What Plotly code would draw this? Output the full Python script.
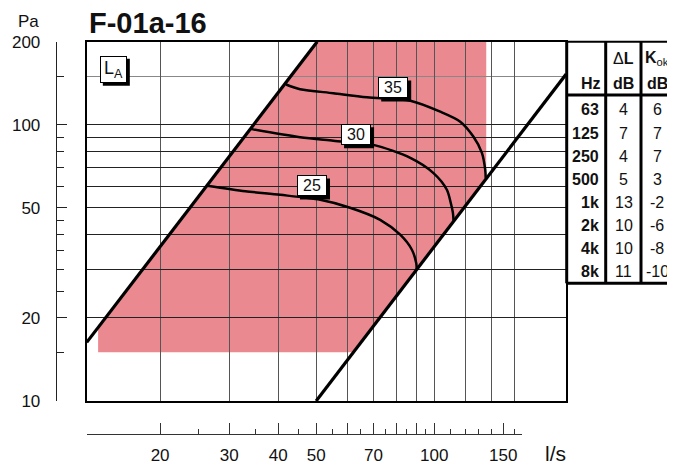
import math
import plotly.graph_objects as go

# the page puts the figure 8 px in from the top-left corner
OFF = 8
W, H = 675 - OFF, 466 - OFF

# limit lines of the unit (flow l/s, pressure Pa)
left_limit_q = [13.0, 50.3]
left_limit_p = [16.3, 200]
right_limit_q = [50.0, 217]
right_limit_p = [10.0, 152.7]

# shaded working area
area_q = [13.9, 13.9, 50.3, 135.7, 135.7, 62.0, 13.9]
area_p = [15.0, 18.4, 200, 200, 63.9, 15.0, 15.0]

# sound level curves L_A
la25_q = [26.4, 33.0, 40.5, 51.2, 61.0, 72.8, 81.9, 87.7, 90.0, 90.2]
la25_p = [60.2, 57.5, 55.8, 53.5, 50.1, 45.3, 40.0, 35.3, 31.5, 30.0]
la30_q = [33.9, 45.5, 55.3, 69.9, 86.9, 99.4, 107.7, 110.2, 111.6, 112.0]
la30_p = [96.7, 90.2, 87.6, 84.6, 75.9, 67.0, 58.2, 52.1, 48.0, 45.0]
la35_q = [41.9, 45.5, 55.3, 67.4, 86.9, 103.6, 116.5, 125.8, 132.3, 134.9, 135.3]
la35_p = [140.0, 134.6, 130.2, 125.9, 122.3, 111.6, 102.7, 90.7, 79.2, 68.7, 64.0]

curve_labels = ['25', '30', '35']
label_q = [48.8, 63.2, 78.6]
label_p = [60.1, 92.1, 136.0]
legend_q, legend_p = 15.2, 159.0   # position of the L_A box

# octave band table
bands = ['63', '125', '250', '500', '1k', '2k', '4k', '8k']
delta_l = [4, 7, 4, 5, 13, 10, 10, 11]
k_ok = [6, 7, 7, 3, -2, -6, -8, -10]

# axes
grid_q = [20, 30, 40, 50, 60, 70, 80, 90, 100, 120, 140, 160]
grid_p = [20, 30, 40, 50, 60, 70, 80, 90, 100]
grid_p_light = [150]
q_major = [20, 30, 40, 50, 70, 100, 150]
q_major_unlabelled = [60, 80, 90]
q_minor = [25, 35, 45, 55, 65, 75, 85, 95, 110, 120, 130, 140, 160]
p_major = [10, 20, 50, 100, 200]
p_minor = [15, 25, 30, 35, 40, 45, 60, 70, 80, 90, 150]

FONT = 'Liberation Sans, Arial, sans-serif'
INK = '#111111'


def px(x):
    return (x - OFF) / W


def py(y):
    return 1 - (y - OFF) / H


PL, PR, PT, PB = 86.7, 566.2, 41.7, 401.0
xrange_ = [math.log10(13), math.log10(217)]
yrange_ = [1, math.log10(200)]
scale_x = (PR - PL) / (xrange_[1] - xrange_[0])
scale_y = (PB - PT) / (yrange_[1] - yrange_[0])

fig = go.Figure()

# pink area on its own subplot so the grid of the next one lies on top
fig.add_trace(go.Scatter(
    x=area_q, y=area_p, mode='lines', fill='toself',
    fillcolor='#EA8A90', line=dict(width=0), hoverinfo='skip',
    xaxis='x', yaxis='y', showlegend=False
))

for q, p, w in [(la25_q, la25_p, 2.5), (la30_q, la30_p, 2.5), (la35_q, la35_p, 2.5),
                (left_limit_q, left_limit_p, 3.2), (right_limit_q, right_limit_p, 3.2)]:
    fig.add_trace(go.Scatter(
        x=q, y=p, mode='lines', line=dict(color='black', width=w, shape='spline', smoothing=0.8),
        hoverinfo='skip', xaxis='x2', yaxis='y2', showlegend=False
    ))


def shadow(q, p, bw, bh):
    # black drop shadow 3 px right/down of a bw x bh box centred on (q, p)
    dx = [-bw / 2 + 3, bw / 2 + 3, bw / 2 + 3, -bw / 2 + 3, -bw / 2 + 3]
    dy = [bh / 2 + 3, bh / 2 + 3, -bh / 2 + 3, -bh / 2 + 3, bh / 2 + 3]
    xs = [q * 10 ** (d / scale_x) for d in dx]
    ys = [p * 10 ** (-d / scale_y) for d in dy]
    fig.add_trace(go.Scatter(x=xs, y=ys, mode='lines', fill='toself', fillcolor='black',
                             line=dict(width=0), hoverinfo='skip', xaxis='x2', yaxis='y2',
                             showlegend=False))


for q, p in zip(label_q, label_p):
    shadow(q, p, 30, 21)
shadow(legend_q, legend_p, 27, 27)

# empty traces so the two loose scales get drawn
for xa, ya in [('x3', 'y3'), ('x5', 'y3'), ('x4', 'y4')]:
    fig.add_trace(go.Scatter(x=[], y=[], xaxis=xa, yaxis=ya, showlegend=False, hoverinfo='skip'))

dom_x = [px(PL), px(PR)]
dom_y = [py(PB), py(PT)]
bottom_range = [xrange_[0], xrange_[0] + (521.7 - PL) / scale_x]

fig.update_layout(
    width=W, height=H,
    margin=dict(l=0, r=0, t=0, b=0, pad=0, autoexpand=False),
    paper_bgcolor='white', plot_bgcolor='rgba(0,0,0,0)',
    font=dict(family=FONT, color=INK),
    xaxis=dict(type='log', range=xrange_, domain=dom_x, visible=False, anchor='y'),
    yaxis=dict(type='log', range=yrange_, domain=dom_y, visible=False, anchor='x'),
    xaxis2=dict(type='log', range=xrange_, domain=dom_x, anchor='y2',
                tickmode='array', tickvals=grid_q, showticklabels=False, ticks='',
                showgrid=True, gridcolor='#555555', gridwidth=1, zeroline=False,
                showline=True, mirror=True, linecolor='black', linewidth=2),
    yaxis2=dict(type='log', range=yrange_, domain=dom_y, anchor='x2',
                tickmode='array', tickvals=grid_p, showticklabels=False, ticks='',
                showgrid=True, gridcolor='#222222', gridwidth=1, zeroline=False,
                minor=dict(tickvals=grid_p_light, showgrid=True, gridcolor='#888888', ticks=''),
                showline=True, mirror=True, linecolor='black', linewidth=2),
    # separate flow scale below the diagram
    xaxis3=dict(type='log', domain=[px(PL), px(521.7)], range=bottom_range,
                anchor='y3', side='bottom', showgrid=False, zeroline=False,
                showline=True, linecolor='#333333', linewidth=1,
                tickmode='array', tickvals=q_major,
                ticks='inside', ticklen=11, tickcolor='#333333', tickwidth=1,
                minor=dict(tickvals=q_minor, ticks='inside', ticklen=5, tickcolor='#333333'),
                tickfont=dict(size=17, family=FONT, color=INK), ticklabelstandoff=5),
    xaxis5=dict(type='log', range=bottom_range, overlaying='x3', anchor='y3', side='bottom',
                showgrid=False, zeroline=False, showline=False, showticklabels=False,
                tickmode='array', tickvals=q_major_unlabelled,
                ticks='inside', ticklen=11, tickcolor='#333333', tickwidth=1),
    yaxis3=dict(domain=[py(434.3), py(410)], range=[0, 1], anchor='x3', visible=False),
    # separate pressure scale left of the diagram
    yaxis4=dict(type='log', range=yrange_, domain=dom_y, anchor='x4', side='left',
                showgrid=False, zeroline=False, showline=True, linecolor='#222222', linewidth=1,
                tickmode='array', tickvals=p_major,
                ticks='inside', ticklen=10, tickcolor='#222222', tickwidth=1,
                minor=dict(tickvals=p_minor, ticks='inside', ticklen=7, tickcolor='#222222'),
                tickfont=dict(size=17, family=FONT, color=INK), ticklabelstandoff=12),
    xaxis4=dict(domain=[px(56.7), px(80)], range=[0, 1], anchor='y4', visible=False),
)
for ax in ['xaxis', 'yaxis', 'xaxis2', 'yaxis2', 'xaxis3', 'yaxis3',
           'xaxis4', 'yaxis4', 'xaxis5']:
    fig.layout[ax].automargin = False


def label(text, x, y, size, xanchor='center', bold=False):
    return dict(text='<b>%s</b>' % text if bold else text, x=px(x), y=py(y),
                xref='paper', yref='paper', xanchor=xanchor, yanchor='middle',
                showarrow=False, font=dict(size=size, family=FONT, color=INK))


def boxed(text, q, p, w, h, size):
    return dict(text=text, x=math.log10(q), y=math.log10(p), xref='x2', yref='y2',
                xanchor='center', yanchor='middle', showarrow=False, width=w, height=h,
                borderpad=1, borderwidth=1, bordercolor='black', bgcolor='white',
                font=dict(size=size, family=FONT, color=INK))


ann = [
    label('F-01a-16', 87, 23, 29, 'left', True),
    label('Pa', 28, 21, 17),
    label('l/s', 555, 453, 21),
]
for t, q, p in zip(curve_labels, label_q, label_p):
    ann.append(boxed(t, q, p, 26, 17, 16))
ann.append(boxed('L<sub>A</sub>', legend_q, legend_p, 23, 23, 18))

# table
col_x = [601, 623.5, 657]
ann.append(label('Δ<b>L</b>', col_x[1], 59, 16))
ann.append(label('<b>K</b><sub>ok</sub>', col_x[2], 59, 16))
ann.append(label('Hz', 603, 83, 16, 'right', True))
ann.append(label('dB', col_x[1], 83, 16, 'center', True))
ann.append(label('dB', col_x[2], 83, 16, 'center', True))
for i, (b, d, k) in enumerate(zip(bands, delta_l, k_ok)):
    yy = 110 + 23.1 * i
    ann.append(label(b, col_x[0], yy, 16, 'right', True))
    ann.append(label(str(d), col_x[1], yy, 16))
    ann.append(label(str(k), col_x[2], yy, 16))
fig.update_layout(annotations=ann)

# table rules
shapes = []
for xl in [566.7, 605.7, 641.0]:
    shapes.append(dict(type='line', xref='paper', yref='paper', x0=px(xl), x1=px(xl),
                       y0=py(PT), y1=py(283.3), line=dict(color='black', width=3)))
for yl, wl in [(PT, 2), (95, 3), (283.3, 3)]:
    shapes.append(dict(type='line', xref='paper', yref='paper', x0=px(566.7), x1=1,
                       y0=py(yl), y1=py(yl), line=dict(color='black', width=wl)))
fig.update_layout(shapes=shapes)

fig.write_html("out.html")
